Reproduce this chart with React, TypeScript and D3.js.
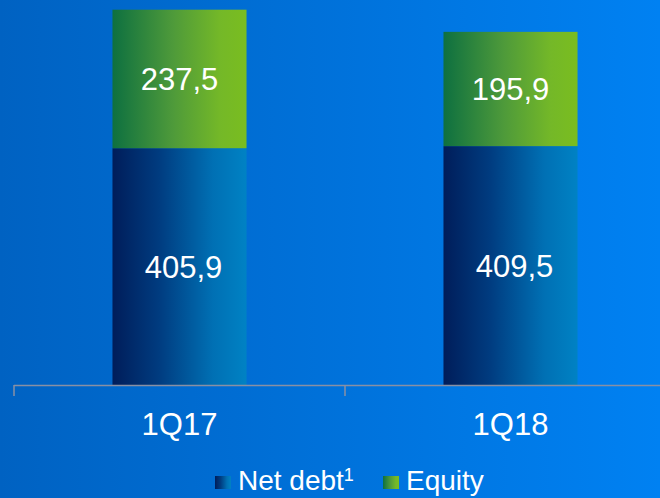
import React from "react";
import * as d3 from "d3";

const categories = ["1Q17", "1Q18"];
const netDebt = [405.9, 409.5];
const equity = [237.5, 195.9];
const netDebtLabels = ["405,9", "409,5"];
const equityLabels = ["237,5", "195,9"];
const legendItems = ["Net debt", "Equity"];

const W = 660;
const H = 498;
const FONT = "Arial, 'Liberation Sans', Helvetica, sans-serif";

export default function App() {
  const x = d3
    .scaleBand<string>()
    .domain(categories)
    .range([14, 676])
    .paddingInner(0.595)
    .paddingOuter(0.2975);
  const y = d3.scaleLinear().domain([0, 660]).range([385, 0]);
  const bw = x.bandwidth();
  const step = x.step();
  const ticks = d3.range(categories.length + 1).map((i) => 14 + i * step);

  return (
    <svg
      width={W}
      height={H}
      style={{ position: "absolute", left: 0, top: 0, display: "block" }}
      fontFamily={FONT}
    >
      <defs>
        <linearGradient id="bg" x1="0" x2="1" y1="0" y2="0">
          <stop offset="0" stopColor="#0062c2" />
          <stop offset="1" stopColor="#0081f2" />
        </linearGradient>
        <linearGradient id="gDebt" x1="0" x2="1" y1="0" y2="0">
          <stop offset="0" stopColor="#001d5a" />
          <stop offset="0.35" stopColor="#003c80" />
          <stop offset="0.75" stopColor="#0070b4" />
          <stop offset="1" stopColor="#0082c4" />
        </linearGradient>
        <linearGradient id="gEq" x1="0" x2="1" y1="0" y2="0">
          <stop offset="0" stopColor="#0e7040" />
          <stop offset="0.45" stopColor="#4e9a3a" />
          <stop offset="0.8" stopColor="#74b828" />
          <stop offset="1" stopColor="#7abd20" />
        </linearGradient>
      </defs>
      <rect x={0} y={0} width={W} height={H} fill="url(#bg)" />

      {categories.map((c, i) => {
        const x0 = x(c)!;
        const yD = y(netDebt[i]);
        const yE = y(netDebt[i] + equity[i]);
        const cx = x0 + bw / 2;
        return (
          <g key={c}>
            <rect x={x0} y={yD} width={bw} height={y(0) - yD} fill="url(#gDebt)" />
            <rect x={x0} y={yE} width={bw} height={yD - yE} fill="url(#gEq)" />
            <text
              x={cx + 4}
              y={(yD + y(0)) / 2 + 11}
              textAnchor="middle"
              fill="#ffffff"
              fontSize={31}
            >
              {netDebtLabels[i]}
            </text>
            <text
              x={cx}
              y={(yE + yD) / 2 + 11}
              textAnchor="middle"
              fill="#ffffff"
              fontSize={31}
            >
              {equityLabels[i]}
            </text>
            <text x={cx} y={435} textAnchor="middle" fill="#ffffff" fontSize={31}>
              {c}
            </text>
          </g>
        );
      })}

      <line x1={14} x2={W} y1={385.5} y2={385.5} stroke="#8890a4" strokeWidth={1.5} />
      {ticks.map((t, i) => (
        <line key={i} x1={t} x2={t} y1={385} y2={396} stroke="#8890a4" strokeWidth={1.5} />
      ))}

      <g>
        <rect x={215} y={476} width={16} height={13} fill="url(#gDebt)" />
        <text x={238} y={490} fill="#ffffff" fontSize={28}>
          {legendItems[0]}
          <tspan fontSize={18} dy={-9}>1</tspan>
        </text>
        <rect x={383} y={476} width={16} height={13} fill="url(#gEq)" />
        <text x={406} y={490} fill="#ffffff" fontSize={28}>
          {legendItems[1]}
        </text>
      </g>
    </svg>
  );
}
